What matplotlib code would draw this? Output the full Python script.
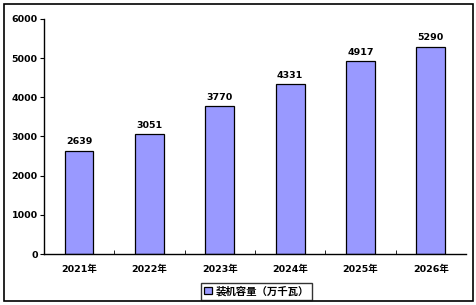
import matplotlib.pyplot as plt
from matplotlib.patches import Rectangle

plt.rcParams['font.family'] = ['DejaVu Sans', 'Noto Sans CJK SC']
plt.rcParams['font.weight'] = 'bold'

years = ['2021年', '2022年', '2023年', '2024年', '2025年', '2026年']
capacity = [2639, 3051, 3770, 4331, 4917, 5290]
yticks = [0, 1000, 2000, 3000, 4000, 5000, 6000]
legend_label = '装机容量（万千瓦）'

fig = plt.figure(figsize=(4.77, 3.05), dpi=100)
fig.patches.append(Rectangle((0.009, 0.012), 0.982, 0.975, transform=fig.transFigure,
                             fill=False, edgecolor='black', linewidth=1.2))
ax = fig.add_axes([0.092, 0.167, 0.885, 0.771])

x = list(range(len(years)))
bars = ax.bar(x, capacity, width=0.41, color='#9999FF', edgecolor='black',
              linewidth=0.9, label=legend_label)
for xi, v in zip(x, capacity):
    ax.text(xi, v + 110, str(v), ha='center', va='bottom', fontsize=6.8,
            fontweight='bold')

ax.set_xlim(-0.5, len(years) - 0.5)
ax.set_ylim(0, 6000)
ax.set_yticks(yticks)
ax.set_yticklabels([str(t) for t in yticks], fontsize=6.8, fontweight='bold')
ax.set_xticks(x)
ax.set_xticklabels(years, fontsize=6.8, fontweight='bold',
                   family=['DejaVu Sans', 'Noto Sans CJK SC'])
ax.tick_params(axis='x', length=0, pad=8)
ax.set_xticks([i + 0.5 for i in x[:-1]], minor=True)
ax.tick_params(axis='x', which='minor', direction='in', length=3)
ax.tick_params(axis='y', direction='out', length=3, pad=1.5)
for s in ['top', 'right']:
    ax.spines[s].set_visible(False)
for s in ['left', 'bottom']:
    ax.spines[s].set_linewidth(1.0)

leg = fig.legend(handles=[bars], labels=[legend_label], loc='center',
                 bbox_to_anchor=(0.538, 0.045), frameon=True,
                 prop={'family': ['Noto Sans CJK SC'], 'size': 7.5, 'weight': 'bold'},
                 fancybox=False, edgecolor='black', handlelength=0.7,
                 handleheight=0.7, handletextpad=0.4, borderpad=0.3)
leg.get_frame().set_linewidth(1.0)

fig.savefig('out.png', dpi=100)
